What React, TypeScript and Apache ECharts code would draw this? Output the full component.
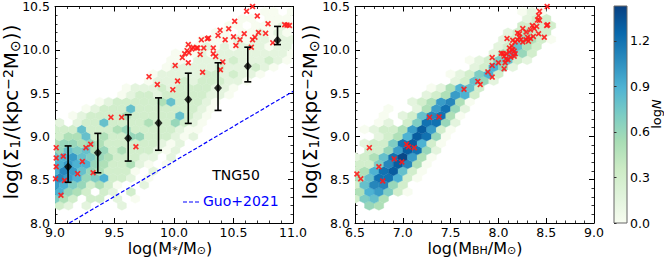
import React, { useEffect, useRef } from 'react';
import * as echarts from 'echarts';

const FONT = 'DejaVu Sans';

// ---------- colour scale (GnBu) ----------
const GNBU = ['#f7fcf0', '#e0f3db', '#ccebc5', '#a8ddb5', '#7bccc4', '#4eb3d3', '#2b8cbe', '#0868ac', '#084081'];
const CMAX = 1.43;
const colorbarTicks = [0, 0.3, 0.6, 0.9, 1.2];

// ---------- left panel: log(M*) vs log(Sigma1) ----------
const leftX = [9.0, 11.0];
const sigmaRange = [8.0, 10.5];
const leftHexStep = [0.075, 0.08]; // lattice spacing (x, row)
const leftHexOrigin = [9.0, 8.12];
// [row, first column, logN of consecutive cells], -1 = empty cell
const leftHexRows: [number, number, number[]][] = [
  [1, 0, [0.3, 0.15, -1, 0.15, -1, -1, -1, 0.15]],
  [2, 0, [0.7, 0.5, 0.3, -1, 0.3, 0.3, -1, 0.15, -1, 0.0]],
  [3, 0, [0.9, 0.6, 0.5, 0.3, -1, 0.3, 0.15, -1, 0.3]],
  [4, 0, [1.0, 0.9, 0.7, 0.6, 0.3, 0.5, 0.3, 0.0, -1, -1, 0.15]],
  [5, 0, [1.1, 1.0, 0.9, 0.6, 0.7, 0.9, 0.3, 0.3, 0.15, -1, 0.0]],
  [6, 0, [0.9, 1.1, 1.0, 0.8, 0.6, 0.5, 0.3, 0.3, 0.3, 0.0, -1, 0.15]],
  [7, 0, [0.9, 1.0, 0.9, 0.9, 0.6, 0.5, 0.3, 0.3, 0.5, 0.15, 0.0, -1, 0.0]],
  [8, 0, [0.8, 0.9, 1.0, 0.8, 0.7, 0.6, 0.5, 0.3, 0.3, 0.3, 0.15, 0.15, -1, 0.15]],
  [9, 0, [0.6, 0.8, 0.7, 0.8, 0.5, 0.6, 0.3, 0.5, 0.3, 0.3, 0.3, 0.15, 0.0, 0.15, -1]],
  [10, 0, [0.5, 0.6, 0.6, 0.5, 0.6, 0.5, 0.3, 0.3, 0.3, 0.3, 0.3, 0.3, 0.15, 0.0, 0.15]],
  [11, 0, [0.3, 0.5, 0.5, 0.8, 0.3, 0.5, 0.3, 0.3, 0.6, 0.6, 0.3, 0.3, 0.3, 0.15, 0.0, 0.15]],
  [12, 0, [0.3, 0.3, 0.3, 0.8, 0.3, 0.3, 0.3, 0.5, 0.6, 0.3, 0.3, 0.3, 0.3, 0.3, 0.15, 0.0, 0.0]],
  [13, 0, [0.15, -1, 0.15, 0.3, 0.3, 0.8, 0.3, 0.3, 0.3, 0.3, 0.5, 0.3, 0.3, 0.6, 0.3, 0.15, 0.0]],
  [14, 1, [-1, 0.0, 0.15, 0.3, 0.3, 0.3, 0.3, 0.5, 0.3, 0.3, 0.3, 0.3, 0.3, 0.8, 0.3, 0.15, 0.0]],
  [15, 3, [0.0, 0.15, 0.3, 0.3, 0.3, 0.8, 0.3, 0.3, 0.3, 0.3, 0.3, 0.3, 0.3, 0.15, 0.0]],
  [16, 5, [0.0, 0.15, 0.3, 0.3, 0.3, 0.3, 0.3, 0.5, 0.8, 0.3, 0.3, 0.3, 0.15, 0.0]],
  [17, 7, [0.0, 0.15, 0.3, 0.3, 0.15, 0.3, 0.3, 0.3, 0.3, 0.3, 0.15, 0.15, 0.0]],
  [18, 8, [0.0, 0.15, 0.15, 0.15, 0.3, 0.15, 0.3, 0.3, 0.3, 0.3, 0.15, 0.15, 0.0]],
  [19, 10, [0.0, 0.15, 0.15, 0.15, 0.3, 0.15, 0.3, 0.3, 0.3, 0.15, 0.15, 0.0]],
  [20, 11, [0.0, 0.15, 0.15, 0.15, 0.15, 0.15, 0.3, 0.3, 0.15, 0.3, 0.15, 0.15, 0.0]],
  [21, 12, [0.0, 0.15, 0.15, 0.15, 0.15, 0.15, 0.3, 0.15, 0.15, 0.15, 0.3, 0.15, 0.0]],
  [22, 13, [0.0, 0.0, -1, 0.15, 0.15, 0.15, 0.15, 0.3, 0.15, 0.15, 0.15, 0.3, 0.15, 0.0]],
  [23, 13, [0.0, 0.0, 0.0, 0.15, 0.0, 0.15, 0.15, 0.15, 0.15, 0.15, 0.15, 0.15, 0.15, 0.0]],
  [24, 15, [0.0, 0.0, 0.15, 0.0, 0.15, 0.0, 0.15, 0.15, 0.15, 0.0, 0.15, 0.15]],
  [25, 16, [0.0, 0.0, 0.0, 0.0, 0.15, 0.0, 0.15, 0.15, 0.0, 0.15, 0.15]],
  [26, 18, [0.0, 0.0, -1, 0.0, 0.0, 0.15, 0.0, 0.15, 0.0]],
  [27, 19, [0.0, 0.0, -1, 0.0, 0.0, 0.0, 0.15, 0.0]],
  [28, 21, [0.0, 0.0, -1, 0.0, 0.0, 0.0]],
  [29, 23, [0.0, 0.0, -1, 0.0]],
];

const medianMass = [9.11, 9.36, 9.615, 9.87, 10.12, 10.37, 10.62, 10.87];
const medianSigma = [8.65, 8.81, 8.98, 9.155, 9.425, 9.56, 9.81, 10.11];
const sigmaLow = [8.47, 8.58, 8.715, 8.84, 9.15, 9.30, 9.63, 10.06];
const sigmaHigh = [8.89, 9.035, 9.25, 9.445, 9.73, 9.85, 10.03, 10.27];

const guoLine = [[9.12, 8.0], [11.0, 9.52]];

const leftCrosses = [
  [9.01, 8.87], [9.01, 8.75], [9.01, 8.65], [9.005, 8.51], [9.07, 8.77], [9.05, 8.32], [9.08, 8.49],
  [9.19, 8.57], [9.23, 8.71], [9.26, 8.87], [9.30, 8.91], [9.32, 8.58], [9.47, 9.22], [9.56, 9.22],
  [9.68, 8.88], [9.79, 9.69], [9.86, 9.60], [9.99, 9.54], [10.03, 9.64], [10.01, 9.82], [10.12, 9.85],
  [10.24, 9.74], [10.07, 9.91], [10.09, 9.955], [10.11, 9.99], [10.12, 10.06], [10.126, 9.966],
  [10.15, 10.01], [10.16, 10.03], [10.19, 10.02], [10.2, 10.02], [10.22, 9.947], [10.25, 10.02],
  [10.28, 10.128], [10.29, 10.135], [10.23, 10.115], [10.33, 9.955], [10.33, 10.02], [10.35, 9.924],
  [10.37, 10.166], [10.387, 10.227], [10.41, 9.86], [10.39, 9.77], [10.43, 10.116], [10.46, 10.243],
  [10.5, 10.15], [10.52, 10.05], [10.51, 10.33], [10.555, 10.116], [10.59, 10.185], [10.61, 10.446],
  [10.66, 10.5], [10.65, 10.03], [10.66, 10.116], [10.68, 10.146], [10.71, 10.2], [10.70, 10.39],
  [10.77, 10.19], [10.79, 10.30], [10.83, 10.08], [10.93, 10.29], [10.95, 10.285], [10.97, 10.28],
];

// ---------- right panel: log(M_BH) vs log(Sigma1) ----------
const rightX = [6.5, 9.0];
const rightHexStep = [0.1, 0.08];
const rightHexOrigin = [6.5, 8.12];
const rightHexRows: [number, number, number[]][] = [
  [1, 1, [0.6, 0.5]],
  [2, 0, [0.3, 0.7, 0.8, 0.5]],
  [3, 0, [0.5, 0.9, 1.0, 0.7, 0.3, 0.0]],
  [4, 0, [0.3, 0.8, 1.1, 1.1, 0.6, 0.3]],
  [5, 0, [0.5, 0.8, 1.2, 1.2, 0.9, 0.3, 0.0]],
  [6, 0, [0.3, 0.5, 0.9, 1.2, 1.3, 0.8, 0.3, 0.0]],
  [7, 0, [0.3, 0.3, 0.7, 1.1, 1.3, 1.1, 0.5, 0.0]],
  [8, 0, [0.15, 0.3, 0.5, 0.8, 1.2, 1.4, 1.0, 0.5, 0.0]],
  [9, 0, [-1, 0.3, 0.3, 0.6, 1.0, 1.3, 1.2, 0.6, 0.15]],
  [10, 1, [0.15, 0.3, 0.3, 0.7, 1.2, 1.3, 0.9, 0.3, 0.0]],
  [11, 1, [-1, 0.15, 0.3, 0.5, 0.9, 1.3, 1.2, 0.6, 0.0]],
  [12, 1, [0.0, 0.15, 0.3, 0.3, 0.5, 1.0, 1.3, 1.0, 0.3, 0.0]],
  [13, 2, [0.0, 0.15, -1, 0.3, 0.7, 1.2, 1.2, 0.6, 0.15]],
  [14, 3, [0.0, -1, 0.15, 0.3, 0.8, 1.1, 1.2, 0.5, 0.0]],
  [15, 3, [0.0, -1, -1, 0.15, 0.5, 1.0, 1.2, 0.6, 0.15]],
  [16, 6, [0.15, 0.3, 0.5, 1.0, 1.1, 0.5, 0.0]],
  [17, 7, [0.15, 0.3, 0.5, 1.0, 0.9, 0.3]],
  [18, 8, [0.0, 0.15, 0.5, 0.9, 0.8, 0.3]],
  [19, 9, [-1, 0.15, 0.3, 0.8, 0.6, 0.15]],
  [20, 10, [0.0, 0.15, 0.3, 0.7, 0.9, 0.3]],
  [21, 11, [-1, 0.15, 0.3, 0.9, 0.6, 0.15]],
  [22, 12, [0.0, 0.15, 0.3, 0.7, 0.8, 0.3, 0.15]],
  [23, 13, [-1, 0.15, 0.5, 0.9, 0.6, 0.3]],
  [24, 14, [-1, 0.15, 0.3, 0.8, 0.5, 0.3]],
  [25, 15, [0.15, 0.3, 0.6, 0.5, 0.3, 0.0]],
  [26, 16, [0.15, 0.3, 0.5, 0.3, 0.3]],
  [27, 17, [0.3, 0.3, 0.3, 0.3]],
  [28, 18, [0.15, 0.3, 0.3]],
  [29, 17, [0.0, 0.15, 0.0]],
];

const rightCrosses = [
  [6.52, 8.565], [6.56, 8.51], [6.65, 8.87], [6.75, 8.65], [6.79, 8.485], [6.91, 8.74], [6.99, 8.705],
  [7.04, 8.91], [7.06, 8.88], [7.12, 8.87], [7.28, 9.22], [7.38, 9.225], [7.64, 9.545], [7.785, 9.635],
  [7.81, 9.60], [7.89, 9.745], [7.935, 9.685], [7.935, 9.82], [7.935, 9.91], [8.00, 9.85], [8.06, 9.78],
  [8.07, 9.85], [8.08, 9.895], [8.03, 9.96], [8.05, 9.955], [8.08, 9.955], [8.115, 9.975], [8.06, 9.925],
  [8.10, 9.885], [8.115, 10.02], [8.14, 10.045], [8.15, 10.0], [8.165, 9.985], [8.175, 9.955],
  [8.13, 9.915], [8.165, 9.925], [8.09, 10.13], [8.15, 10.11], [8.175, 10.09], [8.20, 10.115],
  [8.22, 10.145], [8.235, 10.115], [8.255, 10.09], [8.29, 10.115], [8.305, 10.145], [8.315, 10.10],
  [8.335, 10.13], [8.365, 10.155], [8.20, 10.195], [8.22, 10.185], [8.255, 10.245], [8.29, 10.205],
  [8.335, 10.23], [8.355, 10.28], [8.375, 10.245], [8.40, 10.27], [8.41, 10.345], [8.43, 10.34],
  [8.42, 10.395], [8.43, 10.445], [8.42, 10.185], [8.48, 10.145], [8.515, 10.29], [8.505, 10.28],
  [8.51, 10.50],
];

// ---------- helpers ----------
function hexToRgb(h: string) {
  return [parseInt(h.slice(1, 3), 16), parseInt(h.slice(3, 5), 16), parseInt(h.slice(5, 7), 16)];
}
function gnbu(v: number) {
  const t = Math.max(0, Math.min(1, v / CMAX)) * (GNBU.length - 1);
  const i = Math.min(GNBU.length - 2, Math.floor(t));
  const f = t - i;
  const a = hexToRgb(GNBU[i]);
  const b = hexToRgb(GNBU[i + 1]);
  const c = a.map((x, k) => Math.round(x + (b[k] - x) * f));
  return `rgb(${c[0]},${c[1]},${c[2]})`;
}
function buildCells(rows: [number, number, number[]][], origin: number[], step: number[]) {
  const cells: number[][] = [];
  rows.forEach(([row, start, vals]) => {
    vals.forEach((v, k) => {
      if (v < 0) return;
      const col = start + k;
      cells.push([origin[0] + (col + (row % 2) * 0.5) * step[0], origin[1] + row * step[1], v]);
    });
  });
  return cells;
}
function hexRender(step: number[]) {
  return (params: any, api: any) => {
    const c = api.coord([api.value(0), api.value(1)]);
    const s = api.size([step[0], step[1]]);
    const w = s[0] / 2;
    const h = s[1];
    const col = gnbu(api.value(2));
    return {
      type: 'polygon',
      shape: {
        points: [
          [c[0] + w, c[1] - h / 3], [c[0] + w, c[1] + h / 3], [c[0], c[1] + (2 * h) / 3],
          [c[0] - w, c[1] + h / 3], [c[0] - w, c[1] - h / 3], [c[0], c[1] - (2 * h) / 3],
        ],
      },
      style: { fill: col, stroke: col, lineWidth: 0.4 },
    };
  };
}
const errRender = (params: any, api: any) => {
  const x = api.value(0);
  const lo = api.coord([x, api.value(1)]);
  const hi = api.coord([x, api.value(2)]);
  const cap = 3.5;
  const st = { stroke: '#000', lineWidth: 1.6 };
  return {
    type: 'group',
    children: [
      { type: 'line', shape: { x1: lo[0], y1: lo[1], x2: hi[0], y2: hi[1] }, style: st },
      { type: 'line', shape: { x1: lo[0] - cap, y1: lo[1], x2: lo[0] + cap, y2: lo[1] }, style: st },
      { type: 'line', shape: { x1: hi[0] - cap, y1: hi[1], x2: hi[0] + cap, y2: hi[1] }, style: st },
    ],
  };
};

function axis(gridIndex: number, range: number[], interval: number, position: string, labels: boolean) {
  return {
    type: 'value', gridIndex, min: range[0], max: range[1], interval, position,
    axisLine: { show: true, onZero: false, lineStyle: { color: '#000', width: 1 } },
    axisTick: { show: true, inside: true, length: 5, lineStyle: { color: '#000', width: 1 } },
    minorTick: { show: true, splitNumber: 5, length: 2.5, lineStyle: { color: '#000', width: 0.8 } },
    splitLine: { show: false },
    minorSplitLine: { show: false },
    axisLabel: {
      show: labels, color: '#000', fontSize: 12.5, fontFamily: FONT, lineHeight: 13,
      margin: position === 'bottom' ? 3 : 5,
      formatter: (v: number) => v.toFixed(1),
    },
  };
}

const CROSS = 'path://M0,2L2,0L5,3L8,0L10,2L7,5L10,8L8,10L5,7L2,10L0,8L3,5Z';

const RICH = {
  n: { fontSize: 16, fontFamily: FONT, lineHeight: 16, color: '#000' },
  s: { fontSize: 11, fontFamily: FONT, lineHeight: 10, verticalAlign: 'bottom', color: '#000' },
  N: { fontSize: 20, fontFamily: FONT, lineHeight: 21, color: '#000' },
  S: { fontSize: 14, fontFamily: FONT, lineHeight: 13, verticalAlign: 'bottom', color: '#000' },
  P: { fontSize: 14, fontFamily: FONT, lineHeight: 13, verticalAlign: 'top', color: '#000' },
  i: { fontSize: 13, fontFamily: FONT, fontStyle: 'italic', color: '#000', lineHeight: 12 },
  m: { fontSize: 13, fontFamily: FONT, color: '#000', lineHeight: 12 },
};
const SIGMA_TITLE = '{N|log(Σ}{S|1}{N|/(kpc}{P|−2}{N|M}{S|⊙}{N|))}';

function titleText(x: number, y: number, text: string, rotate: boolean) {
  return {
    type: 'text', x, y, rotation: rotate ? Math.PI / 2 : 0, z: 10,
    style: { text, rich: RICH, align: 'center', verticalAlign: 'middle', fill: '#000' },
  };
}

const G1 = { left: 55, top: 6, width: 238, height: 217 };
const G2 = { left: 355, top: 6, width: 239, height: 217 };
const GC = { left: 614, top: 6, width: 13, height: 217 };

export default function App() {
  const ref = useRef<HTMLDivElement>(null);
  useEffect(() => {
    const chart = echarts.init(ref.current!, null, { renderer: 'svg' });
    const stops = GNBU.map((c, k) => ({ offset: k / (GNBU.length - 1), color: c }));
    const option: any = {
      animation: false,
      backgroundColor: '#fff',
      textStyle: { fontFamily: FONT },
      grid: [
        { ...G1, containLabel: false },
        { ...G2, containLabel: false },
        { ...GC, containLabel: false },
      ],
      xAxis: [
        axis(0, leftX, 0.5, 'bottom', true),
        axis(0, leftX, 0.5, 'top', false),
        axis(1, rightX, 0.5, 'bottom', true),
        axis(1, rightX, 0.5, 'top', false),
        { type: 'value', gridIndex: 2, min: 0, max: 1, show: false },
      ],
      yAxis: [
        axis(0, sigmaRange, 0.5, 'left', true),
        axis(0, sigmaRange, 0.5, 'right', false),
        axis(1, sigmaRange, 0.5, 'left', true),
        axis(1, sigmaRange, 0.5, 'right', false),
        {
          type: 'value', gridIndex: 2, min: 0, max: CMAX, interval: 0.3, position: 'right',
          axisLine: { show: false },
          axisTick: { show: true, inside: false, length: 2.5, lineStyle: { color: '#333' } },
          splitLine: { show: false },
          axisLabel: {
            color: '#000', fontSize: 12.5, fontFamily: FONT, margin: 3, showMaxLabel: false,
            formatter: (v: number) => (colorbarTicks.some((t) => Math.abs(t - v) < 1e-6) ? v.toFixed(1) : ''),
          },
        },
      ],
      series: [
        {
          type: 'custom', xAxisIndex: 0, yAxisIndex: 0, clip: true, z: 1,
          renderItem: hexRender(leftHexStep),
          data: buildCells(leftHexRows, leftHexOrigin, leftHexStep),
        },
        {
          type: 'custom', xAxisIndex: 2, yAxisIndex: 2, clip: true, z: 1,
          renderItem: hexRender(rightHexStep),
          data: buildCells(rightHexRows, rightHexOrigin, rightHexStep),
        },
        {
          type: 'line', xAxisIndex: 0, yAxisIndex: 0, data: guoLine, symbol: 'none', clip: true, z: 3,
          lineStyle: { color: '#0000ff', width: 1.2, type: [4, 2] },
        },
        {
          type: 'scatter', xAxisIndex: 0, yAxisIndex: 0, data: leftCrosses, symbol: CROSS, symbolSize: 6,
          itemStyle: { color: '#ff1a1a', opacity: 0.9 }, z: 4,
        },
        {
          type: 'custom', xAxisIndex: 0, yAxisIndex: 0, z: 5, renderItem: errRender,
          data: medianMass.map((x, k) => [x, sigmaLow[k], sigmaHigh[k]]),
        },
        {
          type: 'scatter', xAxisIndex: 0, yAxisIndex: 0, z: 6, symbol: 'diamond', symbolSize: [8, 9],
          data: medianMass.map((x, k) => [x, medianSigma[k]]), itemStyle: { color: '#000' },
        },
        {
          type: 'scatter', xAxisIndex: 2, yAxisIndex: 2, data: rightCrosses, symbol: CROSS, symbolSize: 6,
          itemStyle: { color: '#ff1a1a', opacity: 0.9 }, z: 4,
        },
      ],
      graphic: [
        {
          type: 'rect', z: -1,
          shape: { x: GC.left, y: GC.top, width: GC.width, height: GC.height },
          style: {
            fill: new echarts.graphic.LinearGradient(0, 1, 0, 0, stops),
            stroke: '#666', lineWidth: 1,
          },
        },
        titleText(11, 112, SIGMA_TITLE, true),
        titleText(310, 112, SIGMA_TITLE, true),
        titleText(170, 248, '{n|log(M}{s|*}{n|/M}{s|⊙}{n|)}', false),
        titleText(475, 248, '{n|log(M}{s|BH}{n|/M}{s|⊙}{n|)}', false),
        titleText(656, 114, '{m|log}{i|N}', true),
        {
          type: 'text', x: 236, y: 175, z: 10,
          style: { text: 'TNG50', fontSize: 14, fontFamily: FONT, fill: '#000', align: 'center', verticalAlign: 'middle' },
        },
        {
          type: 'line', z: 10, shape: { x1: 183, y1: 202, x2: 199, y2: 202 },
          style: { stroke: '#0000ff', lineWidth: 1.2, lineDash: [4, 2] },
        },
        {
          type: 'text', x: 203, y: 201, z: 10,
          style: { text: 'Guo+2021', fontSize: 14, fontFamily: FONT, fill: '#0000ff', align: 'left', verticalAlign: 'middle' },
        },
      ],
    };
    chart.setOption(option);
    return () => chart.dispose();
  }, []);
  return <div ref={ref} style={{ position: 'fixed', left: 0, top: 0, width: 664, height: 259 }} />;
}
